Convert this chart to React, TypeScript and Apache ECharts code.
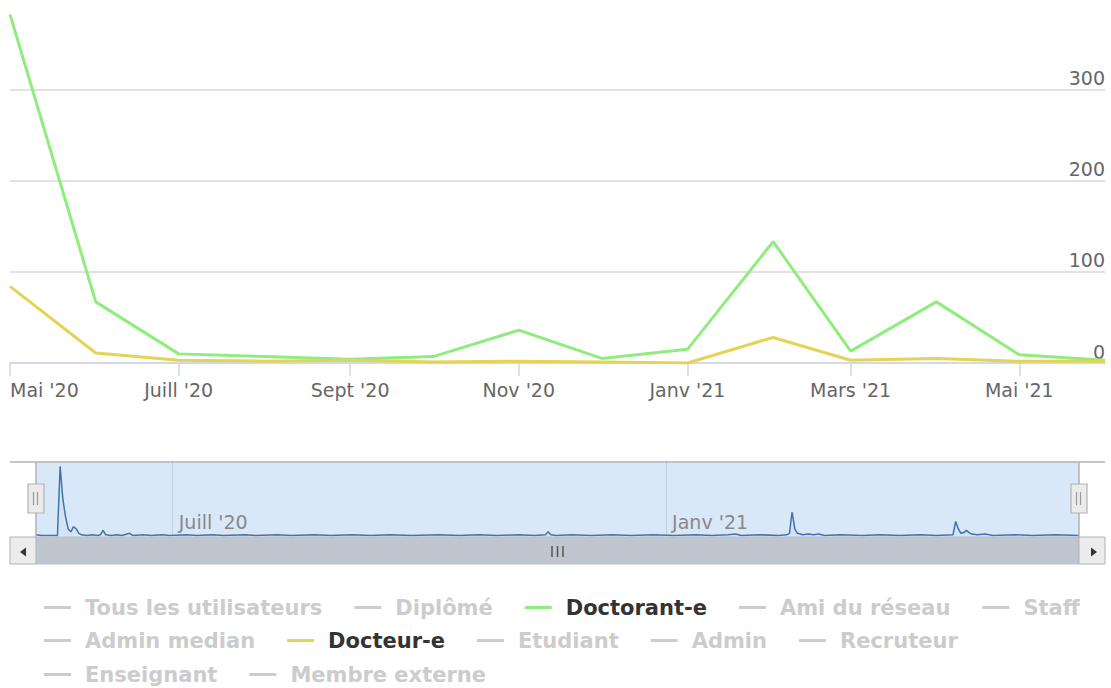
import React, { useEffect, useRef } from 'react';
import * as echarts from 'echarts';

const FONT = '"DejaVu Sans", "Noto Sans", sans-serif';

// Monthly grouped values (main chart)
const monthDates = [
  '2020-05-01', '2020-06-01', '2020-07-01', '2020-08-01', '2020-09-01', '2020-10-01', '2020-11-01',
  '2020-12-01', '2021-01-01', '2021-02-01', '2021-03-01', '2021-04-01', '2021-05-01', '2021-06-01',
];
const doctorantValues = [382, 67, 10, 7, 4, 7, 36, 5, 15, 133, 13, 67, 9, 3];
const docteurValues = [84, 11, 3, 2, 3, 1, 2, 1, 0, 28, 3, 5, 2, 2];

// Main x axis ticks
const tickDates = ['2020-05-01', '2020-07-01', '2020-09-01', '2020-11-01', '2021-01-01', '2021-03-01', '2021-05-01'];
const tickLabels = ["Mai '20", "Juill '20", "Sept '20", "Nov '20", "Janv '21", "Mars '21", "Mai '21"];
const yTicks = [0, 100, 200, 300, 400];

// Navigator (daily) series: day offsets from navStart and values
const navStart = '2020-05-11';
const navEnd = '2021-06-04';
const navDays = [
  0, 2, 8, 9, 10, 11, 12, 13, 14, 15, 16, 17, 19, 21, 23, 24, 25, 26, 28, 30, 32, 35, 36, 40, 43, 47, 50,
  56, 60, 66, 70, 78, 82, 90, 95, 104, 110, 118, 125, 132, 140, 150, 158, 165, 172, 180, 186, 190, 191,
  192, 194, 200, 207, 215, 222, 230, 238, 246, 252, 258, 261, 263, 270, 277, 280, 281, 282, 283, 284,
  286, 288, 290, 292, 294, 300, 308, 315, 322, 330, 336, 342, 343, 344, 345, 346, 347, 348, 349, 351,
  354, 357, 365, 372, 380, 389,
];
const navValues = [
  1, 0, 0, 94, 50, 26, 9, 5, 12, 9, 3, 1, 0, 1, 0, 1, 7, 1, 0, 1, 0, 3, 0, 1, 0, 1, 0,
  1, 0, 1, 0, 1, 0, 1, 0, 1, 0, 1, 0, 1, 0, 1, 0, 1, 0, 1, 0, 1, 5,
  1, 0, 1, 0, 1, 0, 1, 0, 1, 0, 1, 2, 0, 1, 0, 1, 3, 32, 9, 3,
  1, 2, 1, 2, 0, 1, 0, 1, 0, 1, 0, 1, 19, 9, 3, 4, 7, 4, 2, 1,
  2, 0, 1, 0, 1, 0,
];
const navTickDates = ['2020-07-01', '2021-01-01'];
const navTickLabels = ["Juill '20", "Janv '21"];

// Legend rows
const legendRow1 = ['Tous les utilisateurs', 'Diplômé', 'Doctorant-e', 'Ami du réseau', 'Staff'];
const legendRow2 = ['Admin median', 'Docteur-e', 'Etudiant', 'Admin', 'Recruteur'];
const legendRow3 = ['Enseignant', 'Membre externe'];
const seriesColors = [
  '#7cb5ec', '#434348', '#90ed7d', '#f7a35c', '#8085e9', '#f15c80',
  '#e4d354', '#2b908f', '#f45b5b', '#91e8e1', '#7cb5ec', '#434348',
];
const allNames = [...legendRow1, ...legendRow2, ...legendRow3];
const visibleNames = ['Doctorant-e', 'Docteur-e'];

const ts = (s: string) => {
  const [y, m, d] = s.split('-').map(Number);
  return Date.UTC(y, m - 1, d);
};
const DAY = 86400000;

export default function App() {
  const ref = useRef<HTMLDivElement>(null);

  useEffect(() => {
    if (!ref.current) return;
    const chart = echarts.init(ref.current, undefined, { renderer: 'svg' });

    const tickTs = tickDates.map(ts);
    const labelMap: Record<number, string> = {};
    tickTs.forEach((t, i) => (labelMap[t] = tickLabels[i]));
    const navTickTs = navTickDates.map(ts);
    const navLabelMap: Record<number, string> = {};
    navTickTs.forEach((t, i) => (navLabelMap[t] = navTickLabels[i]));

    const selected: Record<string, boolean> = {};
    allNames.forEach((n) => (selected[n] = visibleNames.includes(n)));

    const legendBase = {
      orient: 'horizontal',
      left: 44,
      padding: 0,
      itemWidth: 27,
      itemHeight: 3,
      itemGap: 32,
      icon: 'rect',
      inactiveColor: '#cccccc',
      inactiveBorderColor: '#cccccc',
      selectedMode: true,
      selected,
      textStyle: {
        fontFamily: FONT,
        fontSize: 21,
        fontWeight: 'bold',
        color: '#333333',
        padding: [0, 0, 0, 9],
      },
    };

    const mainSeries = allNames.map((name, i) => {
      let data: [number, number][] = [];
      if (name === 'Doctorant-e') data = monthDates.map((d, k) => [ts(d), doctorantValues[k]]);
      if (name === 'Docteur-e') data = monthDates.map((d, k) => [ts(d), docteurValues[k]]);
      return {
        name,
        type: 'line',
        xAxisIndex: 0,
        yAxisIndex: 0,
        data,
        color: seriesColors[i],
        symbol: 'none',
        showSymbol: false,
        lineStyle: { width: 3, color: seriesColors[i] },
        z: name === 'Docteur-e' ? 4 : 3,
      };
    });

    const lineG = '#b2b1b6';

    chart.setOption({
      animation: false,
      backgroundColor: '#ffffff',
      textStyle: { fontFamily: FONT },
      grid: [
        { left: 10, right: 6, top: -2, height: 365, outerBoundsMode: 'none', containLabel: false },
        {
          left: 36, right: 32, top: 462, height: 75, outerBoundsMode: 'none', containLabel: false,
          show: true, backgroundColor: '#d9e8f9', borderWidth: 0,
        },
      ],
      legend: [
        { ...legendBase, top: 597, data: legendRow1 },
        { ...legendBase, top: 630, data: legendRow2 },
        { ...legendBase, top: 664, data: legendRow3 },
      ],
      xAxis: [
        {
          type: 'value',
          gridIndex: 0,
          min: ts(monthDates[0]),
          max: ts(monthDates[monthDates.length - 1]),
          axisLine: { show: true, lineStyle: { color: '#ccd6eb', width: 1.5 } },
          axisTick: { show: true, customValues: tickTs, length: 13, lineStyle: { color: '#ccd6eb', width: 1.5 } },
          axisLabel: {
            show: true,
            customValues: tickTs,
            formatter: (v: number) => labelMap[v] ?? '',
            color: '#666666',
            fontSize: 19,
            fontFamily: FONT,
            margin: 17,
            alignMinLabel: 'left',
            hideOverlap: false,
          },
          splitLine: { show: false },
        },
        {
          type: 'value',
          gridIndex: 1,
          min: ts(navStart),
          max: ts(navEnd),
          axisLine: { show: false },
          axisTick: {
            show: true, inside: true, customValues: navTickTs, length: 75,
            lineStyle: { color: '#c3d1e4', width: 1 },
          },
          axisLabel: {
            show: true,
            inside: true,
            customValues: navTickTs,
            formatter: (v: number) => navLabelMap[v] ?? '',
            color: '#888888',
            fontSize: 19,
            fontFamily: FONT,
            align: 'left',
            padding: [0, 0, 0, 6],
            margin: 6,
            hideOverlap: false,
          },
          splitLine: { show: false },
        },
      ],
      yAxis: [
        {
          type: 'value',
          gridIndex: 0,
          position: 'right',
          min: yTicks[0],
          max: yTicks[yTicks.length - 1],
          interval: 100,
          axisLine: { show: false },
          axisTick: { show: false },
          splitLine: { show: true, lineStyle: { color: '#d9d9d9', width: 1.5 } },
          axisLabel: {
            inside: true,
            margin: 0,
            verticalAlign: 'bottom',
            color: '#666666',
            fontSize: 19,
            fontFamily: FONT,
            showMaxLabel: false,
            padding: [0, 0, 2, 0],
          },
        },
        { type: 'value', gridIndex: 1, min: -2, max: 100, show: false },
      ],
      series: [
        ...mainSeries,
        {
          name: 'navigator',
          type: 'line',
          xAxisIndex: 1,
          yAxisIndex: 1,
          data: navDays.map((d, i) => [ts(navStart) + d * DAY, navValues[i]]),
          symbol: 'none',
          showSymbol: false,
          lineStyle: { width: 1.5, color: '#4572a7' },
          areaStyle: { color: 'rgba(69,114,167,0.05)' },
          silent: true,
        },
      ],
      graphic: [
        // navigator outline
        { type: 'line', shape: { x1: 10, y1: 462, x2: 1105, y2: 462 }, style: { stroke: lineG, lineWidth: 1.5 }, z: 10 },
        { type: 'line', shape: { x1: 36, y1: 462, x2: 36, y2: 537 }, style: { stroke: lineG, lineWidth: 1.5 }, z: 10 },
        { type: 'line', shape: { x1: 1079, y1: 462, x2: 1079, y2: 537 }, style: { stroke: lineG, lineWidth: 1.5 }, z: 10 },
        // scrollbar track/bar
        { type: 'rect', shape: { x: 36, y: 537, width: 1043, height: 27 }, style: { fill: '#bfc6cf', stroke: '#b8c0ca', lineWidth: 1 }, z: 10 },
        // buttons
        { type: 'rect', shape: { x: 10, y: 537, width: 26, height: 27 }, style: { fill: '#ececec', stroke: lineG, lineWidth: 1 }, z: 10 },
        { type: 'polygon', shape: { points: [[20, 552], [26, 547.5], [26, 556.5]] }, style: { fill: '#333333' }, z: 11 },
        { type: 'rect', shape: { x: 1079, y: 537, width: 26, height: 27 }, style: { fill: '#ececec', stroke: lineG, lineWidth: 1 }, z: 10 },
        { type: 'polygon', shape: { points: [[1097, 552], [1091, 547.5], [1091, 556.5]] }, style: { fill: '#333333' }, z: 11 },
        // grip
        { type: 'line', shape: { x1: 552, y1: 546, x2: 552, y2: 557 }, style: { stroke: '#555555', lineWidth: 1.5 }, z: 11 },
        { type: 'line', shape: { x1: 557.5, y1: 546, x2: 557.5, y2: 557 }, style: { stroke: '#555555', lineWidth: 1.5 }, z: 11 },
        { type: 'line', shape: { x1: 563, y1: 546, x2: 563, y2: 557 }, style: { stroke: '#555555', lineWidth: 1.5 }, z: 11 },
        // handles
        { type: 'rect', shape: { x: 28, y: 484, width: 16, height: 29 }, style: { fill: '#ebebeb', stroke: lineG, lineWidth: 1.2 }, z: 12 },
        { type: 'line', shape: { x1: 33.5, y1: 492, x2: 33.5, y2: 505 }, style: { stroke: '#9a9a9a', lineWidth: 1.2 }, z: 13 },
        { type: 'line', shape: { x1: 37.5, y1: 492, x2: 37.5, y2: 505 }, style: { stroke: '#9a9a9a', lineWidth: 1.2 }, z: 13 },
        { type: 'rect', shape: { x: 1071, y: 484, width: 16, height: 29 }, style: { fill: '#ebebeb', stroke: lineG, lineWidth: 1.2 }, z: 12 },
        { type: 'line', shape: { x1: 1076.5, y1: 492, x2: 1076.5, y2: 505 }, style: { stroke: '#9a9a9a', lineWidth: 1.2 }, z: 13 },
        { type: 'line', shape: { x1: 1080.5, y1: 492, x2: 1080.5, y2: 505 }, style: { stroke: '#9a9a9a', lineWidth: 1.2 }, z: 13 },
      ],
    });

    return () => chart.dispose();
  }, []);

  return (
    <div
      ref={ref}
      style={{ position: 'fixed', left: 0, top: 0, width: 1111, height: 688, background: '#fff' }}
    />
  );
}
